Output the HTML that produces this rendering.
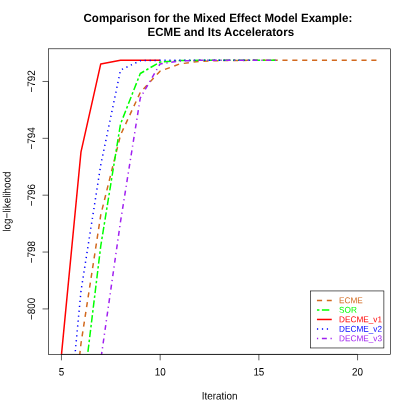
<!DOCTYPE html>
<html><head><meta charset="utf-8"><title>ECME plot</title>
<style>
html,body{margin:0;padding:0;background:#fff;}
body{width:415px;height:415px;overflow:hidden;}
svg{display:block;will-change:transform;}
text{font-family:"Liberation Sans",sans-serif;text-rendering:geometricPrecision;}
.a{font-size:9.88px;fill:#000;}
.t{font-size:11.55px;font-weight:bold;fill:#000;}
.l{font-size:8.22px;}
</style></head><body>
<svg width="415" height="415" viewBox="0 0 415 415">
<defs><clipPath id="c"><rect x="48.45" y="48.8" width="341.90" height="305.60"/></clipPath></defs>
<g clip-path="url(#c)" fill="none" stroke-linejoin="round" stroke-linecap="butt">
<path d="M61.24 520.00 L81.00 343.50 L100.75 215.00 L120.51 135.00 L140.27 92.50 L160.03 71.20 L179.78 63.90 L199.54 61.30 L219.30 60.65 L239.05 60.40 L258.81 60.30 L278.57 60.25 L298.32 60.25 L318.08 60.25 L337.84 60.25 L357.60 60.25 L377.35 60.25" stroke="#D2691E" stroke-width="1.5" stroke-dasharray="5.14 4.74" stroke-dashoffset="3.0"/>
<path d="M81.00 409.00 L100.75 246.00 L120.51 124.00 L140.27 73.50 L160.03 62.00 L179.78 60.55 L199.54 60.30 L219.30 60.25 L239.05 60.25 L258.81 60.25 L277.58 60.25" stroke="#00FF00" stroke-width="1.5" stroke-dasharray="2.47 2.47 7.41 2.47" stroke-dashoffset="6.7"/>
<path d="M61.24 357.00 L81.00 151.80 L100.75 63.90 L120.51 60.30 L140.27 60.25 L160.03 60.25" stroke="#FF0000" stroke-width="1.5"/>
<path d="M61.24 500.00 L81.00 291.00 L100.75 165.00 L120.51 70.10 L140.27 60.70 L160.03 60.30 L179.78 60.25 L199.54 60.25 L219.30 60.25 L239.05 60.25 L257.82 60.25" stroke="#0000FF" stroke-width="1.5" stroke-dasharray="1.235 3.705" stroke-dashoffset="-1.25"/>
<path d="M81.00 500.00 L100.75 360.00 L120.51 221.70 L140.27 98.00 L160.03 64.00 L179.78 60.95 L199.54 60.35 L219.30 60.25 L239.05 60.25 L258.81 60.25 L277.58 60.25" stroke="#A020F0" stroke-width="1.5" stroke-dasharray="1.235 3.705 4.94 3.705" stroke-dashoffset="-3.8"/>
</g>
<rect x="48.45" y="48.8" width="341.90" height="305.60" stroke="#000" stroke-width="0.62" fill="none"/>
<line x1="61.45" y1="354.4" x2="357.56" y2="354.4" stroke="#000" stroke-width="0.62" fill="none"/>
<line x1="48.45" y1="81.48" x2="48.45" y2="308.92" stroke="#000" stroke-width="0.62" fill="none"/>
<line x1="61.45" y1="354.4" x2="61.45" y2="360.33" stroke="#000" stroke-width="0.62" fill="none"/>
<text transform="translate(61.45 375.4) rotate(0.03) scale(1 1.09)" text-anchor="middle" class="a">5</text>
<line x1="160.16" y1="354.4" x2="160.16" y2="360.33" stroke="#000" stroke-width="0.62" fill="none"/>
<text transform="translate(160.16 375.4) rotate(0.03) scale(1 1.09)" text-anchor="middle" class="a">10</text>
<line x1="258.86" y1="354.4" x2="258.86" y2="360.33" stroke="#000" stroke-width="0.62" fill="none"/>
<text transform="translate(258.86 375.4) rotate(0.03) scale(1 1.09)" text-anchor="middle" class="a">15</text>
<line x1="357.56" y1="354.4" x2="357.56" y2="360.33" stroke="#000" stroke-width="0.62" fill="none"/>
<text transform="translate(357.56 375.4) rotate(0.03) scale(1 1.09)" text-anchor="middle" class="a">20</text>
<line x1="48.45" y1="81.48" x2="42.52" y2="81.48" stroke="#000" stroke-width="0.62" fill="none"/>
<text transform="translate(35.0 81.48) rotate(-90.03) scale(1 1.09)" text-anchor="middle" class="a">−792</text>
<line x1="48.45" y1="138.34" x2="42.52" y2="138.34" stroke="#000" stroke-width="0.62" fill="none"/>
<text transform="translate(35.0 138.34) rotate(-90.03) scale(1 1.09)" text-anchor="middle" class="a">−794</text>
<line x1="48.45" y1="195.20" x2="42.52" y2="195.20" stroke="#000" stroke-width="0.62" fill="none"/>
<text transform="translate(35.0 195.20) rotate(-90.03) scale(1 1.09)" text-anchor="middle" class="a">−796</text>
<line x1="48.45" y1="252.06" x2="42.52" y2="252.06" stroke="#000" stroke-width="0.62" fill="none"/>
<text transform="translate(35.0 252.06) rotate(-90.03) scale(1 1.09)" text-anchor="middle" class="a">−798</text>
<line x1="48.45" y1="308.92" x2="42.52" y2="308.92" stroke="#000" stroke-width="0.62" fill="none"/>
<text transform="translate(35.0 308.92) rotate(-90.03) scale(1 1.09)" text-anchor="middle" class="a">−800</text>
<text transform="translate(219.6 399.6) rotate(0.03) scale(1 1.09)" text-anchor="middle" class="a">Iteration</text>
<text transform="translate(10.4 201.55) rotate(-90.03) scale(1 1.09)" text-anchor="middle" class="a">log−likelihood</text>
<text transform="translate(217.9 21.8) rotate(0.02) scale(1 1.035)" text-anchor="middle" class="t">Comparison for the Mixed Effect Model Example:</text>
<text transform="translate(220.8 35.85) rotate(0.02) scale(1 1.035)" text-anchor="middle" class="t">ECME and Its Accelerators</text>
<rect x="310.46" y="290.94" width="73.42" height="57.03" fill="#fff" stroke="#000" stroke-width="0.62" />
<line x1="316.95" y1="300.45" x2="331.75" y2="300.45" stroke="#D2691E" stroke-width="1.5" stroke-linecap="butt" stroke-dasharray="5.14 4.74"/>
 <text transform="translate(339.1 303.25) rotate(0.03) scale(1 1.03)" class="l" fill="#D2691E">ECME</text>
<line x1="316.95" y1="309.96" x2="331.75" y2="309.96" stroke="#00FF00" stroke-width="1.5" stroke-linecap="butt" stroke-dasharray="2.47 2.47 7.41 2.47"/>
 <text transform="translate(339.1 312.76) rotate(0.03) scale(1 1.03)" class="l" fill="#00FF00">SOR</text>
<line x1="316.95" y1="319.47" x2="331.75" y2="319.47" stroke="#FF0000" stroke-width="1.5" stroke-linecap="butt"/>
 <text transform="translate(339.1 322.27) rotate(0.03) scale(1 1.03)" class="l" fill="#FF0000">DECME_v1</text>
<line x1="316.95" y1="328.98" x2="331.75" y2="328.98" stroke="#0000FF" stroke-width="1.5" stroke-linecap="butt" stroke-dasharray="1.235 3.705"/>
 <text transform="translate(339.1 331.78) rotate(0.03) scale(1 1.03)" class="l" fill="#0000FF">DECME_v2</text>
<line x1="316.95" y1="338.49" x2="331.75" y2="338.49" stroke="#A020F0" stroke-width="1.5" stroke-linecap="butt" stroke-dasharray="1.235 3.705 4.94 3.705"/>
 <text transform="translate(339.1 341.29) rotate(0.03) scale(1 1.03)" class="l" fill="#A020F0">DECME_v3</text>
</svg>
</body></html>
